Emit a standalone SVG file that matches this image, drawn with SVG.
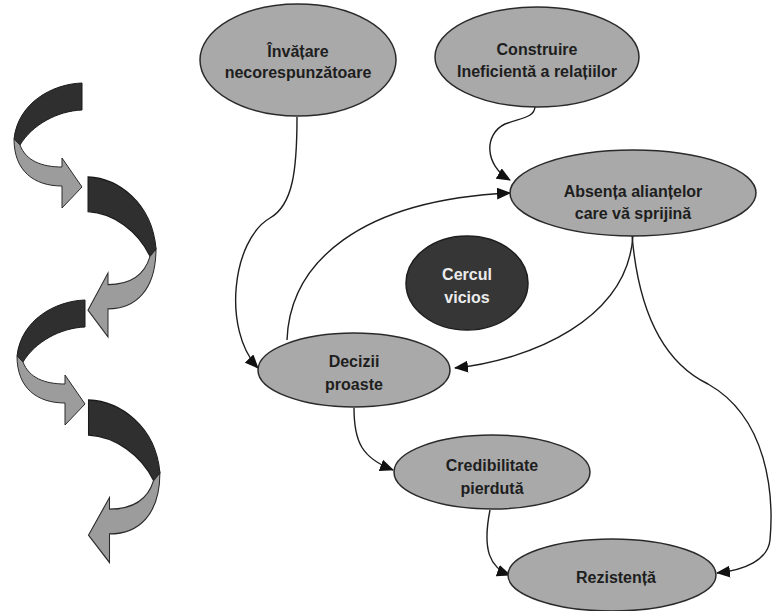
<svg xmlns="http://www.w3.org/2000/svg" width="774" height="611" viewBox="0 0 774 611">
<style>
.node{fill:#a9a9a9;stroke:#2a2a2a;stroke-width:1.5}
.dark{fill:#363636;stroke:#1e1e1e;stroke-width:1.5}
.t{font-family:"Liberation Sans",Arial,sans-serif;font-weight:bold;font-size:16px;fill:#1e1e1e;text-anchor:middle}
.tw{font-family:"Liberation Sans",Arial,sans-serif;font-weight:bold;font-size:16px;fill:#ececec;text-anchor:middle}
.edge{fill:none;stroke:#1e1e1e;stroke-width:1.4}
.rd{fill:#2f2f2f;stroke:#1a1a1a;stroke-width:1}
.rl{fill:#9c9c9c;stroke:#2a2a2a;stroke-width:1}
</style>
<defs>
<marker id="ah" viewBox="0 0 14 12" refX="13" refY="6" markerWidth="14" markerHeight="12" markerUnits="userSpaceOnUse" orient="auto">
<path d="M0,0 L14,6 L0,12 Z" fill="#111"/>
</marker>
<g id="ribbon">
<path class="rd" d="M70,0 C40,1 6,20 2,56 L8,62 C20,42 45,28 70,27 Z"/>
<path class="rl" d="M8,62 C14,78 30,84 50,84 L50,75 L70,104 L50,125 L50,103 C22,103 2,88 2,56 Z"/>
</g>
</defs>
<rect width="774" height="611" fill="#ffffff"/>

<g id="side-arrows">
<use href="#ribbon" transform="translate(12,83)"/>
<use href="#ribbon" transform="translate(158,177) scale(-1,1.28)"/>
<use href="#ribbon" transform="translate(15,300)"/>
<use href="#ribbon" transform="translate(162,400) scale(-1.05,1.3)"/>
</g>

<g id="connectors">
<path class="edge" d="M297,117 C297,170 293,205 270,218 C232,240 222,330 258,368" marker-end="url(#ah)"/>
<path class="edge" d="M535,106 C535,118 520,118 505,124 C484,134 484,165 510,180" marker-end="url(#ah)"/>
<path class="edge" d="M287,340 C290,262 360,200 510,193" marker-end="url(#ah)"/>
<path class="edge" d="M633,235 C628,320 530,360 455,368" marker-end="url(#ah)"/>
<path class="edge" d="M632,235 C640,330 675,368 708,384 C768,418 774,495 770,540 C768,560 745,570 717,573" marker-end="url(#ah)"/>
<path class="edge" d="M354,408 C354,442 362,458 393,470" marker-end="url(#ah)"/>
<path class="edge" d="M490,510 C482,550 490,568 510,575" marker-end="url(#ah)"/>
</g>

<g id="invatare">
<ellipse class="node" cx="298" cy="60" rx="98" ry="56"/>
<text class="t" x="298" y="57">Învățare</text>
<text class="t" x="298" y="78">necorespunzătoare</text>
</g>

<g id="construire">
<ellipse class="node" cx="537" cy="57" rx="102" ry="50"/>
<text class="t" x="537" y="55">Construire</text>
<text class="t" x="537" y="77">Ineficientă a relațiilor</text>
</g>

<g id="absenta">
<ellipse class="node" cx="633" cy="193" rx="123" ry="43"/>
<text class="t" x="633" y="197">Absența alianțelor</text>
<text class="t" x="633" y="219">care vă sprijină</text>
</g>

<g id="cercul">
<ellipse class="dark" cx="467" cy="283" rx="61" ry="47"/>
<text class="tw" x="467" y="280">Cercul</text>
<text class="tw" x="467" y="303">vicios</text>
</g>

<g id="decizii">
<ellipse class="node" cx="354" cy="370" rx="96" ry="37"/>
<text class="t" x="354" y="367">Decizii</text>
<text class="t" x="354" y="390">proaste</text>
</g>

<g id="credibilitate">
<ellipse class="node" cx="492" cy="472" rx="98" ry="37"/>
<text class="t" x="492" y="471">Credibilitate</text>
<text class="t" x="492" y="494">pierdută</text>
</g>

<g id="rezistenta">
<ellipse class="node" cx="612" cy="575" rx="104" ry="36"/>
<text class="t" x="616" y="583">Rezistență</text>
</g>
</svg>
